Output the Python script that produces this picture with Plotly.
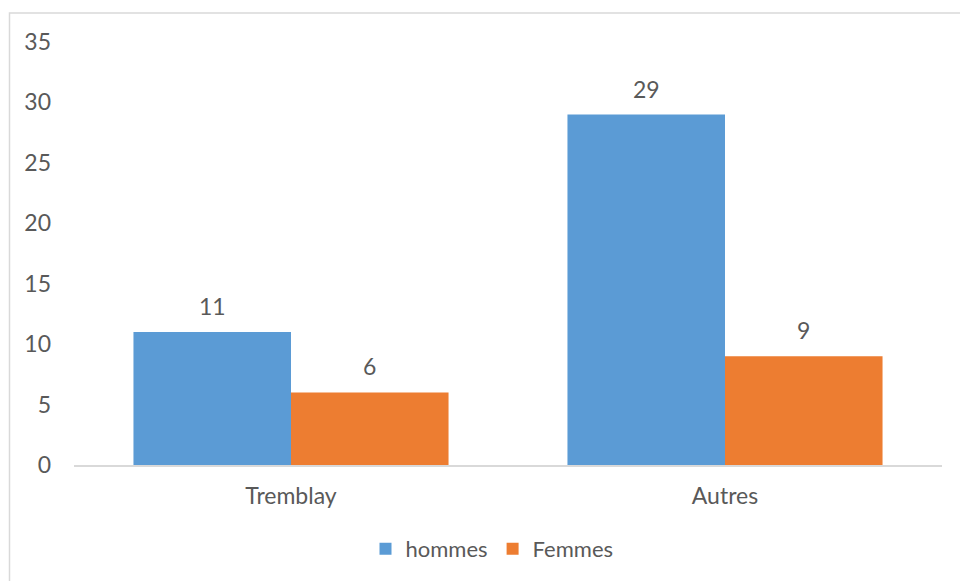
import plotly.graph_objects as go

categories = ["Tremblay", "Autres"]
hommes = [11, 29]
femmes = [6, 9]
series_names = ["hommes", "Femmes"]
y_ticks = [0, 5, 10, 15, 20, 25, 30, 35]

colors = ["#5B9BD5", "#ED7D31"]
font_color = "#595959"
font_family = "Lato, Carlito, Calibri, sans-serif"
fs = 23

W, H = 960, 581
ml, mr, mt, mb = 74, 18, 41.5, 116
plot_w = W - ml - mr
plot_h = H - mt - mb

fig = go.Figure()
for name, vals, col in zip(series_names, [hommes, femmes], colors):
    fig.add_trace(go.Bar(x=categories, y=vals, name=name, marker=dict(color=col, line=dict(width=0))))

bargap = 0.274
bar_px = plot_w / len(categories) * (1 - bargap) / 2
annotations = []
for i, vals in enumerate([hommes, femmes]):
    shift = (-0.5 if i == 0 else 0.5) * bar_px
    for c, v in zip(categories, vals):
        annotations.append(dict(x=c, y=v, xref="x", yref="y", text=str(v), showarrow=False,
                                xshift=shift, yshift=26, font=dict(size=fs, color=font_color, family=font_family)))

px_to_py = lambda py: (H - mb - py) / plot_h
px_to_px = lambda px: (px - ml) / plot_w

fig.update_layout(
    width=W, height=H,
    margin=dict(l=ml, r=mr, t=mt, b=mb, autoexpand=False),
    paper_bgcolor="white", plot_bgcolor="white",
    barmode="group", bargap=bargap, bargroupgap=0,
    font=dict(family=font_family, color=font_color, size=fs),
    showlegend=True,
    legend=dict(orientation="h", x=px_to_px(492), xanchor="center", y=px_to_py(549), yanchor="middle",
                font=dict(size=22, color=font_color), traceorder="normal"),
    annotations=annotations,
    shapes=[dict(type="rect", xref="paper", yref="paper",
                 x0=px_to_px(9.5), x1=1.5, y0=-1, y1=px_to_py(12.5),
                 line=dict(color="#D9D9D9", width=1.5), fillcolor="rgba(0,0,0,0)", layer="below")],
)
fig.update_xaxes(showline=True, linecolor="#D9D9D9", linewidth=1.5, ticks="", showgrid=False,
                 tickfont=dict(size=fs, color=font_color), ticklabelstandoff=10)
fig.update_yaxes(range=[0, 35], tickvals=y_ticks, showgrid=False, zeroline=False, showline=False,
                 ticks="", tickfont=dict(size=fs, color=font_color), ticklabelstandoff=22)

fig.write_html("out.html", config={"displayModeBar": False},
               post_script="document.body.style.margin='0';document.body.style.overflow='hidden';")
